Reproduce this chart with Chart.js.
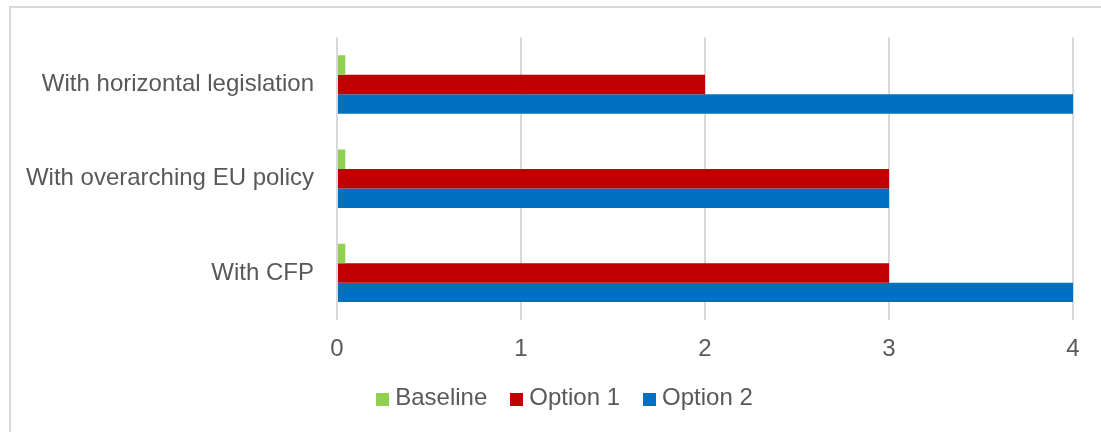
<!DOCTYPE html>
<html>
<head>
<meta charset="utf-8">
<script src="https://cdn.jsdelivr.net/npm/chart.js@4"></script>
<style>
  html, body { margin: 0; padding: 0; background: #ffffff; }
  body { width: 1101px; height: 432px; position: relative; overflow: hidden; }
  .frame {
    position: absolute; left: 9px; top: 6px; width: 1200px; height: 500px;
    border-left: 2px solid #d9d9d9; border-top: 2px solid #d9d9d9;
  }
  #chart { position: absolute; left: 0; top: 0; }
</style>
</head>
<body>
<div class="frame"></div>
<canvas id="chart" width="1101" height="432"></canvas>
<script>
const categories = ["With horizontal legislation", "With overarching EU policy", "With CFP"];
const baseline = [0.045, 0.045, 0.045];
const option1 = [2, 3, 3];
const option2 = [4, 3, 4];
const tickValues = [0, 1, 2, 3, 4];

const textColor = "#595959";
const fontFamily = "'Liberation Sans', Arial, sans-serif";
const font = { family: fontFamily, size: 24 };

// Compact legend row: small square swatch, short gap, label text
const compactLegend = {
  id: "compactLegend",
  afterDraw(chart) {
    const ctx = chart.ctx;
    const box = 13, gapText = 6, gapItem = 23, centerX = 564.5, centerY = 399;
    ctx.save();
    ctx.font = `${font.size}px ${fontFamily}`;
    ctx.textBaseline = "middle";
    const items = chart.data.datasets.map(ds => ({
      text: ds.label, color: ds.backgroundColor, w: ctx.measureText(ds.label).width
    }));
    const total = items.reduce((s, it) => s + box + gapText + it.w, 0) + gapItem * (items.length - 1);
    let x = centerX - total / 2;
    items.forEach(it => {
      ctx.fillStyle = it.color;
      ctx.fillRect(Math.round(x), Math.round(centerY - box / 2), box, box);
      ctx.fillStyle = textColor;
      ctx.fillText(it.text, x + box + gapText, centerY - 1);
      x += box + gapText + it.w + gapItem;
    });
    ctx.restore();
  }
};

new Chart(document.getElementById("chart"), {
  type: "bar",
  data: {
    labels: categories,
    datasets: [
      { label: "Baseline", data: baseline, backgroundColor: "#92D050" },
      { label: "Option 1", data: option1, backgroundColor: "#C00000" },
      { label: "Option 2", data: option2, backgroundColor: "#0070C0" }
    ]
  },
  plugins: [compactLegend],
  options: {
    indexAxis: "y",
    responsive: false,
    animation: false,
    datasets: { bar: { categoryPercentage: 0.62, barPercentage: 1.0, borderWidth: 0 } },
    layout: { padding: { left: 0, right: 28, top: 36, bottom: 0 } },
    scales: {
      x: {
        min: tickValues[0],
        max: tickValues[tickValues.length - 1],
        afterBuildTicks: (scale) => { scale.ticks = tickValues.map(v => ({ value: v })); },
        grid: { color: "#d9d9d9", lineWidth: 2, drawTicks: false },
        border: { display: false },
        ticks: { color: textColor, font: font, padding: 15 },
        afterFit: (scale) => { scale.height = 112; }
      },
      y: {
        grid: { display: false, drawTicks: false },
        border: { display: false },
        ticks: { color: textColor, font: font, padding: 23 },
        afterFit: (scale) => { scale.width = 337; }
      }
    },
    plugins: {
      legend: { display: false },
      tooltip: { enabled: false }
    }
  }
});
</script>
</body>
</html>
